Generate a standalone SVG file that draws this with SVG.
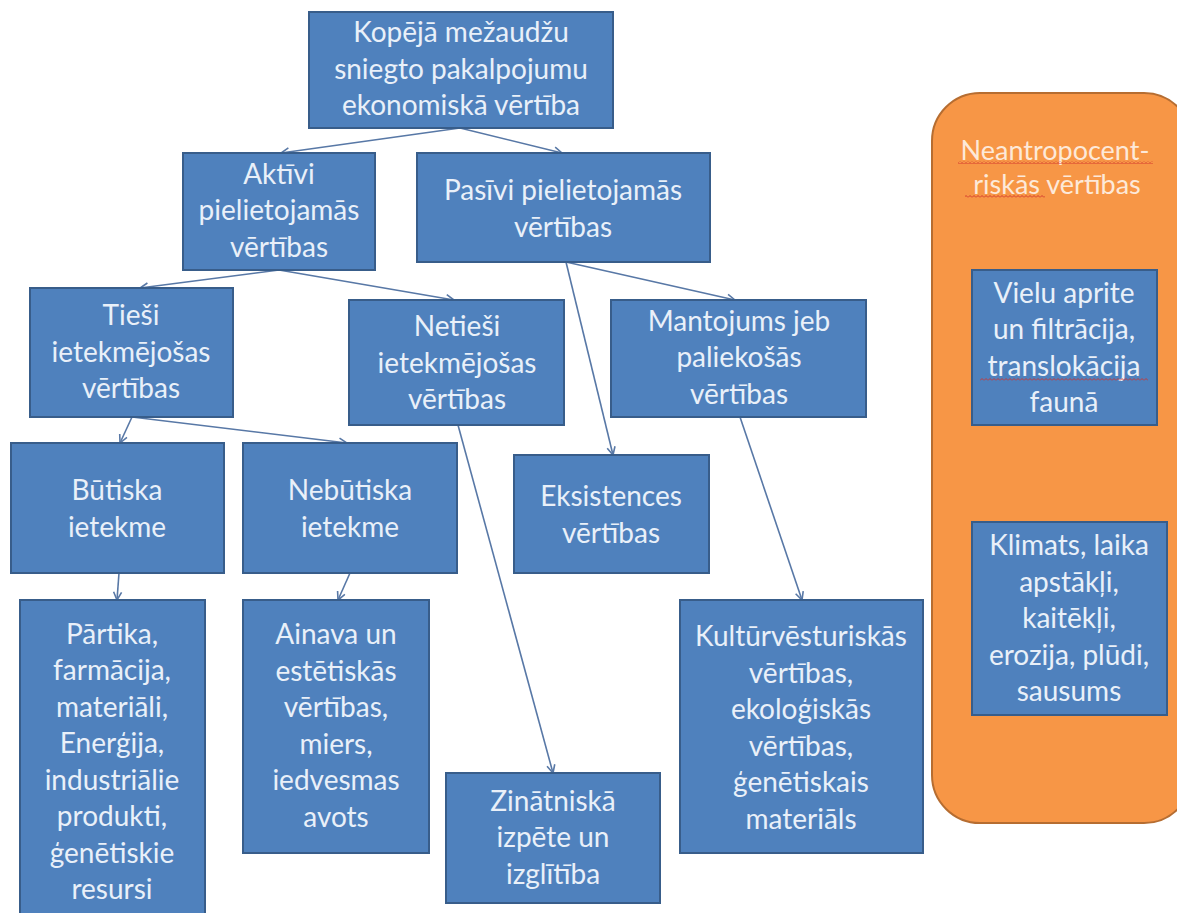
<svg xmlns="http://www.w3.org/2000/svg" width="1177" height="913" viewBox="0 0 1177 913">
<style>
.box{fill:#4f81bd;stroke:#385d8a;stroke-width:2}
.t{font-family:"Lato","Open Sans","DejaVu Sans",sans-serif;font-size:28px;fill:#e9f0f9;text-anchor:middle}
.tt{font-family:"Lato","Open Sans","DejaVu Sans",sans-serif;font-size:27px;fill:#fde9d9;text-anchor:middle}
.c{stroke:#5878a6;stroke-width:1.6;fill:none;marker-end:url(#ah)}
</style>
<defs>
<marker id="ah" viewBox="0 0 10 10" refX="9" refY="5" markerWidth="10" markerHeight="10" markerUnits="userSpaceOnUse" orient="auto">
<path d="M1,1 L9,5 L1,9" fill="none" stroke="#5878a6" stroke-width="1.6"/>
</marker>
<pattern id="wave" width="4" height="3" patternUnits="userSpaceOnUse">
<path d="M0,2.5 L2,0.5 L4,2.5" fill="none" stroke="#d0302a" stroke-width="0.9"/>
</pattern>
</defs>
<rect width="1177" height="913" fill="#ffffff"/>

<g id="panel">
<rect x="932" y="93" width="260" height="730" rx="48" ry="48" fill="#f79646" stroke="#b66d31" stroke-width="2"/>
<text class="tt" x="1055" y="160">Neantropocent-</text>
<text class="tt" x="1057" y="194">riskās vērtības</text>
<rect x="958" y="161" width="195" height="3" fill="url(#wave)"/>
<rect x="965" y="195" width="80" height="3" fill="url(#wave)"/>
</g>

<g id="connectors">
<line class="c" x1="460" y1="128" x2="281" y2="153"/>
<line class="c" x1="460" y1="128" x2="562" y2="153"/>
<line class="c" x1="279" y1="270" x2="140" y2="288"/>
<line class="c" x1="279" y1="270" x2="454" y2="300"/>
<line class="c" x1="566" y1="262" x2="613" y2="455"/>
<line class="c" x1="566" y1="262" x2="735" y2="300"/>
<line class="c" x1="132" y1="417" x2="120" y2="443"/>
<line class="c" x1="132" y1="417" x2="347" y2="443"/>
<line class="c" x1="458" y1="425" x2="553" y2="773"/>
<line class="c" x1="740" y1="417" x2="802" y2="600"/>
<line class="c" x1="119" y1="573" x2="117" y2="600"/>
<line class="c" x1="350" y1="573" x2="338" y2="600"/>
</g>

<g id="n-total">
<rect class="box" x="309" y="12" width="304" height="116"/>
<text class="t" x="461" y="42">Kopējā mežaudžu</text>
<text class="t" x="461" y="79">sniegto pakalpojumu</text>
<text class="t" x="461" y="115">ekonomiskā vērtība</text>
</g>

<g id="n-aktivi">
<rect class="box" x="183" y="153" width="192" height="117"/>
<text class="t" x="279" y="184">Aktīvi</text>
<text class="t" x="279" y="220">pielietojamās</text>
<text class="t" x="279" y="257">vērtības</text>
</g>

<g id="n-pasivi">
<rect class="box" x="417" y="153" width="293" height="109"/>
<text class="t" x="563" y="200">Pasīvi pielietojamās</text>
<text class="t" x="563" y="237">vērtības</text>
</g>

<g id="n-tiesi">
<rect class="box" x="30" y="288" width="203" height="129"/>
<text class="t" x="131" y="325">Tieši</text>
<text class="t" x="131" y="362">ietekmējošas</text>
<text class="t" x="131" y="398">vērtības</text>
</g>

<g id="n-netiesi">
<rect class="box" x="349" y="300" width="215" height="125"/>
<text class="t" x="457" y="336">Netieši</text>
<text class="t" x="457" y="373">ietekmējošas</text>
<text class="t" x="457" y="409">vērtības</text>
</g>

<g id="n-mantojums">
<rect class="box" x="611" y="300" width="255" height="117"/>
<text class="t" x="739" y="331">Mantojums jeb</text>
<text class="t" x="739" y="367">paliekošās</text>
<text class="t" x="739" y="404">vērtības</text>
</g>

<g id="n-butiska">
<rect class="box" x="11" y="443" width="213" height="130"/>
<text class="t" x="117" y="500">Būtiska</text>
<text class="t" x="117" y="537">ietekme</text>
</g>

<g id="n-nebutiska">
<rect class="box" x="243" y="443" width="214" height="130"/>
<text class="t" x="350" y="500">Nebūtiska</text>
<text class="t" x="350" y="537">ietekme</text>
</g>

<g id="n-eksistences">
<rect class="box" x="514" y="455" width="195" height="118"/>
<text class="t" x="611" y="506">Eksistences</text>
<text class="t" x="611" y="543">vērtības</text>
</g>

<g id="n-partika">
<rect class="box" x="20" y="600" width="185" height="320"/>
<text class="t" x="112" y="644">Pārtika,</text>
<text class="t" x="112" y="680">farmācija,</text>
<text class="t" x="112" y="717">materiāli,</text>
<text class="t" x="112" y="753">Enerģija,</text>
<text class="t" x="112" y="790">industriālie</text>
<text class="t" x="112" y="826">produkti,</text>
<text class="t" x="112" y="863">ģenētiskie</text>
<text class="t" x="112" y="899">resursi</text>
</g>

<g id="n-ainava">
<rect class="box" x="243" y="600" width="186" height="253"/>
<text class="t" x="336" y="644">Ainava un</text>
<text class="t" x="336" y="681">estētiskās</text>
<text class="t" x="336" y="717">vērtības,</text>
<text class="t" x="336" y="754">miers,</text>
<text class="t" x="336" y="790">iedvesmas</text>
<text class="t" x="336" y="827">avots</text>
</g>

<g id="n-zinatniska">
<rect class="box" x="446" y="773" width="214" height="130"/>
<text class="t" x="553" y="811">Zinātniskā</text>
<text class="t" x="553" y="847">izpēte un</text>
<text class="t" x="553" y="884">izglītība</text>
</g>

<g id="n-kultur">
<rect class="box" x="680" y="600" width="243" height="253"/>
<text class="t" x="801" y="646">Kultūrvēsturiskās</text>
<text class="t" x="801" y="683">vērtības,</text>
<text class="t" x="801" y="719">ekoloģiskās</text>
<text class="t" x="801" y="756">vērtības,</text>
<text class="t" x="801" y="792">ģenētiskais</text>
<text class="t" x="801" y="829">materiāls</text>
</g>

<g id="n-vielu">
<rect class="box" x="972" y="270" width="185" height="155"/>
<text class="t" x="1064" y="303">Vielu aprite</text>
<text class="t" x="1064" y="339">un filtrācija,</text>
<text class="t" x="1064" y="376">translokācija</text>
<text class="t" x="1064" y="412">faunā</text>
<rect x="980" y="378" width="168" height="3" fill="url(#wave)"/>
</g>

<g id="n-klimats">
<rect class="box" x="972" y="522" width="195" height="193"/>
<text class="t" x="1069" y="555">Klimats, laika</text>
<text class="t" x="1069" y="592">apstākļi,</text>
<text class="t" x="1069" y="628">kaitēkļi,</text>
<text class="t" x="1069" y="665">erozija, plūdi,</text>
<text class="t" x="1069" y="701">sausums</text>
</g>
</svg>
